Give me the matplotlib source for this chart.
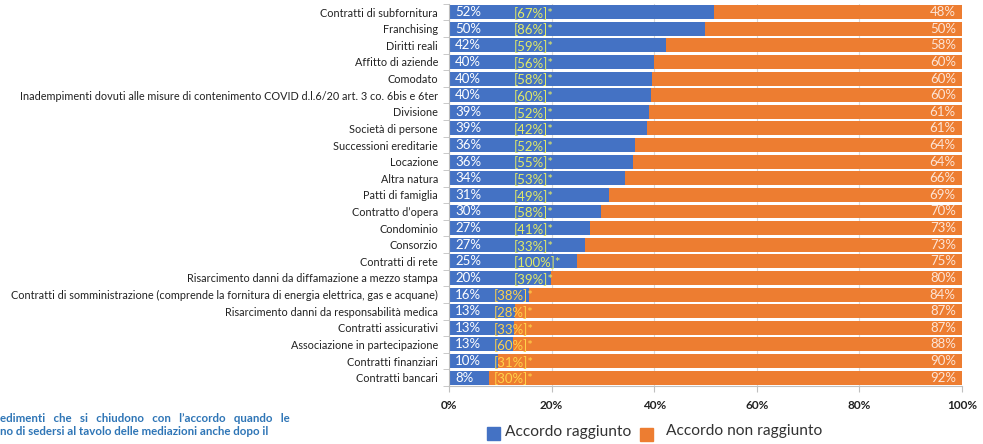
import matplotlib.pyplot as plt

plt.rcParams['font.family'] = ['Lato', 'DejaVu Sans']

categories = [
    "Contratti di subfornitura",
    "Franchising",
    "Diritti reali",
    "Affitto di aziende",
    "Comodato",
    "Inadempimenti dovuti alle misure di contenimento COVID d.l.6/20 art. 3 co. 6bis e 6ter",
    "Divisione",
    "Società di persone",
    "Successioni ereditarie",
    "Locazione",
    "Altra natura",
    "Patti di famiglia",
    "Contratto d’opera",
    "Condominio",
    "Consorzio",
    "Contratti di rete",
    "Risarcimento danni da diffamazione a mezzo stampa",
    "Contratti di somministrazione (comprende la fornitura di energia elettrica, gas e acquane)",
    "Risarcimento danni da responsabilità medica",
    "Contratti assicurativi",
    "Associazione in partecipazione",
    "Contratti finanziari",
    "Contratti bancari",
]
# share of "accordo raggiunto" (bar length, %)
agree = [51.7, 49.9, 42.3, 40.0, 39.6, 39.4, 39.0, 38.6, 36.3, 35.8, 34.4, 31.2,
         29.6, 27.4, 26.6, 24.9, 19.9, 15.6, 12.8, 12.6, 12.4, 9.5, 7.8]
agree_lbl = [52, 50, 42, 40, 40, 40, 39, 39, 36, 36, 34, 31, 30, 27, 27, 25, 20,
             16, 13, 13, 13, 10, 8]
not_agree_lbl = [48, 50, 58, 60, 60, 60, 61, 61, 64, 64, 66, 69, 70, 73, 73, 75,
                 80, 84, 87, 87, 88, 90, 92]
bracket = [67, 86, 59, 56, 58, 60, 52, 42, 52, 55, 53, 49, 58, 41, 33, 100, 39,
           38, 28, 33, 60, 31, 30]

blue = '#4472C4'
orange = '#ED7D31'

fig = plt.figure(figsize=(9.83, 4.44), dpi=100)
ax = fig.add_axes([0.4568, 0.1306, 0.5218, 0.861])

y = list(range(len(categories)))
rest = [100 - a for a in agree]
ax.barh(y, agree, height=0.84, color=blue, zorder=2)
ax.barh(y, rest, left=agree, height=0.84, color=orange, zorder=2)

for i in y:
    ax.text(1.2, i, f"{agree_lbl[i]}%", color='white', fontsize=9.5,
            va='center', ha='left', zorder=3)
    ax.text(98.8, i, f"{not_agree_lbl[i]}%", color='#FCE4D6', fontsize=9.5,
            va='center', ha='right', zorder=3)
    if agree[i] >= 19:
        bx, bc = 12.6, '#E2EA66'
    else:
        bx, bc = 8.8, '#FFD24A'
    ax.text(bx, i + 0.08, f"[{bracket[i]}%]*", color=bc, fontsize=9.5,
            va='center', ha='left', zorder=3)

ax.set_ylim(len(categories) - 0.5, -0.5)
ax.set_xlim(0, 100)
ax.set_yticks(y)
ax.set_yticklabels(categories, fontsize=7.8, color='#222222')
ax.set_yticks([i + 0.5 for i in range(-1, len(categories))], minor=True)
ax.tick_params(axis='y', which='major', length=0, pad=8)
ax.tick_params(axis='y', which='minor', length=4, color='#BFBFBF', direction='out')
ax.set_xticks([0, 20, 40, 60, 80, 100])
ax.set_xticklabels(['0%', '20%', '40%', '60%', '80%', '100%'],
                   fontsize=8.5, fontweight='bold', color='#222222')
ax.tick_params(axis='x', length=4, color='#BFBFBF', pad=6)
ax.grid(axis='x', color='#D9D9D9', linewidth=0.8, zorder=0)
for s in ['top', 'right']:
    ax.spines[s].set_visible(False)
for s in ['left', 'bottom']:
    ax.spines[s].set_color('#BFBFBF')

# legend
fig.patches.append(plt.Rectangle((487 / 983, 1 - 440 / 444), 13 / 983, 13 / 444,
                                 transform=fig.transFigure, color=blue))
fig.text(505 / 983, 1 - 432 / 444, "Accordo raggiunto", fontsize=11.2,
         color='#333333', va='center')
fig.patches.append(plt.Rectangle((640 / 983, 1 - 441 / 444), 13 / 983, 13 / 444,
                                 transform=fig.transFigure, color=orange))
fig.text(666 / 983, 1 - 431 / 444, "Accordo non raggiunto", fontsize=11.2,
         color='#333333', va='center')

# cut-off note bottom left
note_c = '#2E75B6'
fig.text(0, 1 - 418 / 444, "edimenti   che   si   chiudono   con   l’accordo   quando   le",
         fontsize=8.3, color=note_c, fontweight='bold', va='center')
fig.text(0, 1 - 431 / 444, "no di sedersi al tavolo delle mediazioni anche dopo il",
         fontsize=8.3, color=note_c, fontweight='bold', va='center')

fig.savefig('out.png', dpi=100)
